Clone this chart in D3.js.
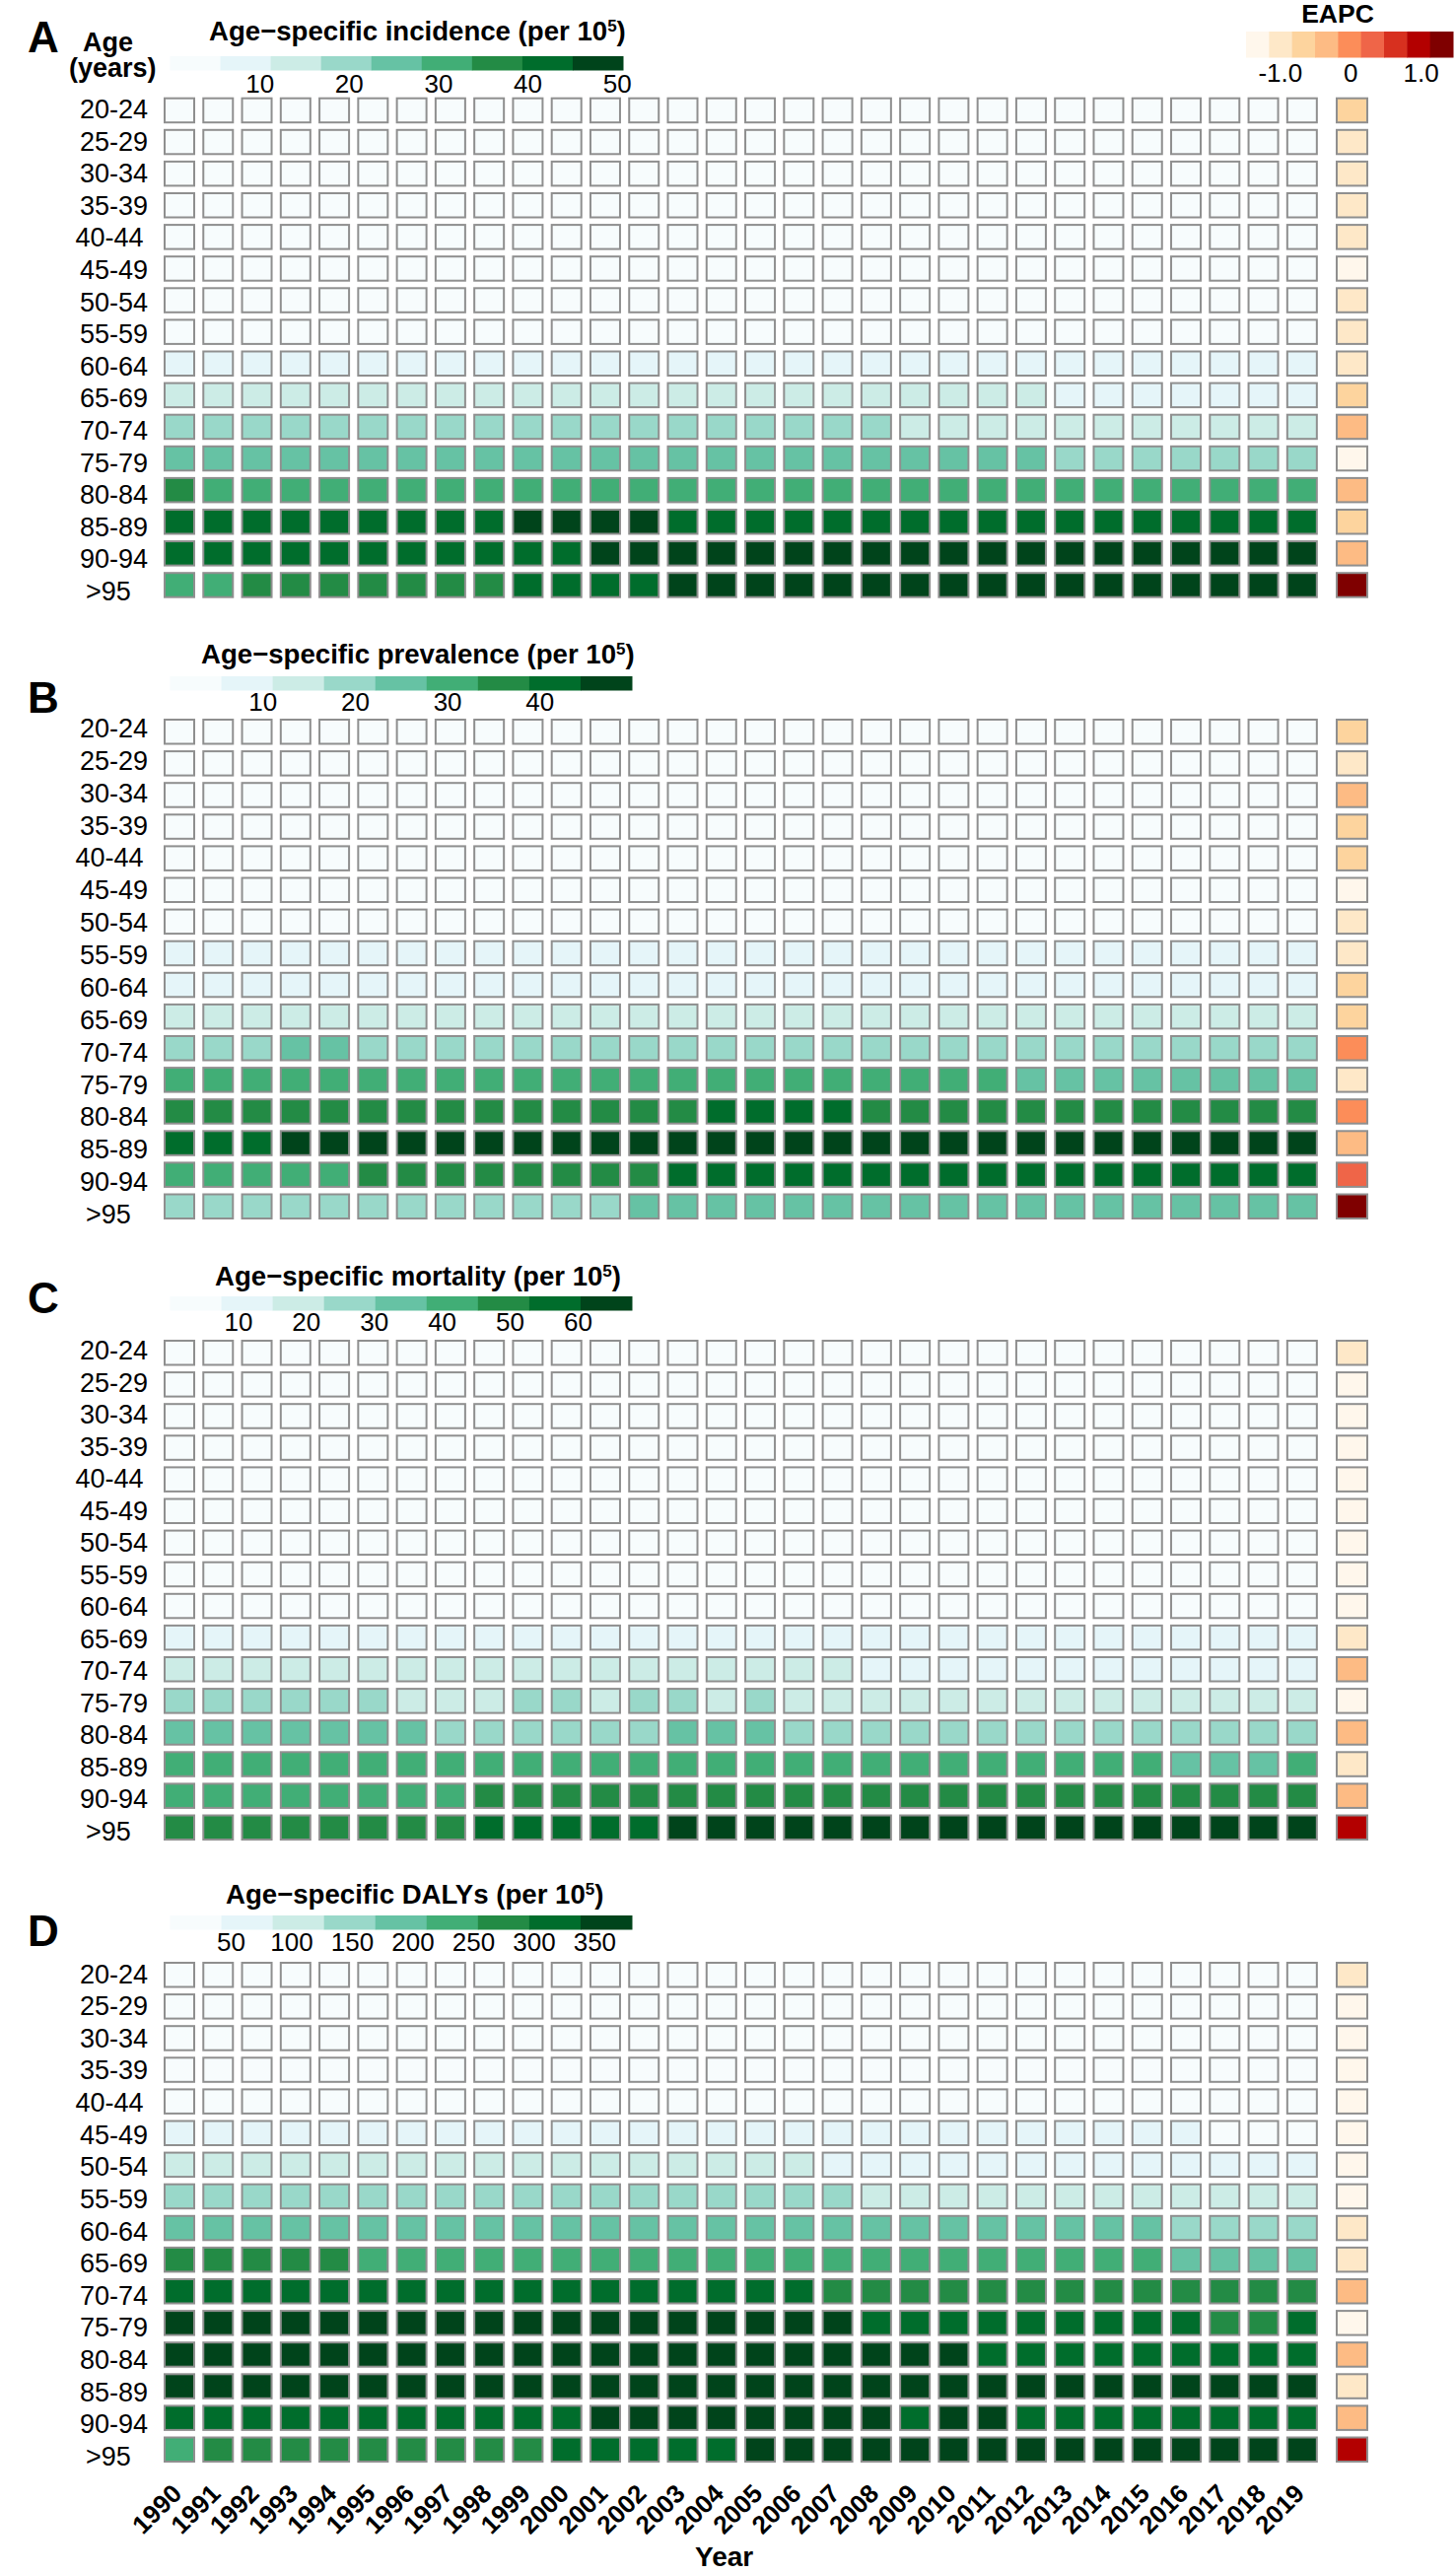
<!DOCTYPE html>
<html>

<head>
  <meta charset="utf-8">
  <title>Age-specific incidence, prevalence, mortality and DALYs</title>
  <style>
  body {
    margin: 0px;
    background: #fff;
  }
  text {
    font-family: "Liberation Sans", Arial, sans-serif;
    fill: #000;
  }
  .cell {
    stroke: #8f8f8f;
    stroke-width: 2px;
  }
  .bold {
    font-weight: bold;
  }
  </style>
</head>

<body>
  <svg width="1477" height="2610"></svg>
  <script src="https://d3js.org/d3.v7.min.js"></script>
  <script>
  var years = d3.range(1990, 2020);
  var ages = ["20-24", "25-29", "30-34", "35-39", "40-44", "45-49", "50-54", "55-59",
    "60-64", "65-69", "70-74", "75-79", "80-84", "85-89", "90-94", ">95"];

  // colour class (1-9) of every cell, one string per age group
  // blocks of ten years: 1990-1999, 2000-2009, 2010-2019
  var incidence = [
    "1111111111 1111111111 1111111111",
    "1111111111 1111111111 1111111111",
    "1111111111 1111111111 1111111111",
    "1111111111 1111111111 1111111111",
    "1111111111 1111111111 1111111111",
    "1111111111 1111111111 1111111111",
    "1111111111 1111111111 1111111111",
    "1111111111 1111111111 1111111111",
    "2222222222 2222222222 2222222222",
    "3333333333 3333333333 3332222222",
    "4444444444 4444444443 3333333333",
    "5555555555 5555555555 5554444444",
    "7666666666 6666666666 6666666666",
    "8888888889 9998888888 8888888888",
    "8888888888 8999999999 9999999999",
    "6677777778 8889999999 9999999999"
  ];
  var prevalence = [
    "1111111111 1111111111 1111111111",
    "1111111111 1111111111 1111111111",
    "1111111111 1111111111 1111111111",
    "1111111111 1111111111 1111111111",
    "1111111111 1111111111 1111111111",
    "1111111111 1111111111 1111111111",
    "1111111111 1111111111 1111111111",
    "2222222222 2222222222 2222222222",
    "2222222222 2222222222 2222222222",
    "3333333333 3333333333 3333333333",
    "4445544444 4444444444 4444444444",
    "6666666666 6666666666 6655555555",
    "7777777777 7777888877 7777777777",
    "8889999999 9999999999 9999999999",
    "6666677777 7778888888 8888888888",
    "4444444444 4455555555 5555555555"
  ];
  var mortality = [
    "1111111111 1111111111 1111111111",
    "1111111111 1111111111 1111111111",
    "1111111111 1111111111 1111111111",
    "1111111111 1111111111 1111111111",
    "1111111111 1111111111 1111111111",
    "1111111111 1111111111 1111111111",
    "1111111111 1111111111 1111111111",
    "1111111111 1111111111 1111111111",
    "1111111111 1111111111 1111111111",
    "2222222222 2222222222 2222222222",
    "3333333333 3333333322 2222222222",
    "4444443334 4344343333 3333333333",
    "5555555444 4445554444 4444444444",
    "6666666666 6666666666 6666665556",
    "6666666677 7777777777 7777777777",
    "7777777788 8889999999 9999999999"
  ];
  var dalys = [
    "1111111111 1111111111 1111111111",
    "1111111111 1111111111 1111111111",
    "1111111111 1111111111 1111111111",
    "1111111111 1111111111 1111111111",
    "1111111111 1111111111 1111111111",
    "2222222222 2222222222 2222222111",
    "3333333333 3333333222 2222222222",
    "4444444444 4444444433 3333333333",
    "5555555555 5555555555 5555554444",
    "7777766666 6666666666 6666665555",
    "8888888888 8888888777 7777777777",
    "9999999999 9999999988 8888888778",
    "9999999999 9999999999 9888888888",
    "9999999999 9999999999 9999999999",
    "8888888888 8999999998 9988888888",
    "6777777777 8888899999 9999999999"
  ];

  var eapcIncidence = [3, 2, 2, 2, 2, 1, 2, 2, 2, 3, 4, 1, 4, 3, 4, 9];
  var eapcPrevalence = [3, 2, 4, 3, 3, 1, 2, 2, 3, 3, 5, 2, 5, 4, 6, 9];
  var eapcMortality = [2, 1, 1, 1, 1, 1, 1, 1, 1, 2, 4, 1, 4, 2, 4, 8];
  var eapcDalys = [2, 1, 1, 1, 1, 1, 1, 1, 2, 2, 4, 1, 4, 2, 4, 8];

  var incidenceTicks = [10, 20, 30, 40, 50];
  var prevalenceTicks = [10, 20, 30, 40];
  var mortalityTicks = [10, 20, 30, 40, 50, 60];
  var dalysTicks = [50, 100, 150, 200, 250, 300, 350];
  var eapcTicks = [-1, 0, 1];

  var levels = d3.range(1, 10);
  var green = d3.scaleOrdinal().domain(levels).range(d3.schemeBuGn[9]);
  var orange = d3.scaleOrdinal().domain(levels).range(d3.schemeOrRd[9]);

  var svg = d3.select("svg");

  var colStep = 39.27, cellW = 32;
  var rowStep = 32.1, cellH = 26.5;
  var x = d3.scaleBand()
    .domain(years)
    .range([166, 166 + colStep * 29 + cellW])
    .paddingInner(1 - cellW / colStep);

  function parseRow(s) {
    return s.replace(/ /g, "").split("").map(Number);
  }

  // one colour bar with its labels underneath
  function colorBar(g, colors, x0, x1, y0, y1, domainMax, domainMin, ticks, baseline, fontSize, fmt) {
    var band = d3.scaleBand().domain(levels).range([x0, x1]);
    g.selectAll(".bin")
      .data(levels)
      .enter()
      .append("rect")
      .attr("class", "bin")
      .attr("x", function(d) { return band(d); })
      .attr("y", y0)
      .attr("width", band.bandwidth() + 0.5)
      .attr("height", y1 - y0)
      .attr("fill", function(d) { return colors(d); });

    var scale = d3.scaleLinear().domain([domainMin, domainMax]).range([x0, x1]);
    var axis = g.append("g")
      .attr("transform", "translate(0," + baseline + ")")
      .call(d3.axisBottom(scale).tickValues(ticks).tickSize(0).tickFormat(fmt || d3.format("d")));
    axis.select(".domain").remove();
    axis.selectAll("text")
      .attr("y", 0)
      .attr("dy", 0)
      .attr("font-size", fontSize)
      .attr("font-family", '"Liberation Sans", Arial, sans-serif');
  }

  function drawPanel(p) {
    var g = svg.append("g");

    g.append("text")
      .attr("class", "bold")
      .attr("x", 28)
      .attr("y", p.letterY)
      .attr("font-size", 44)
      .text(p.letter);

    var title = g.append("text")
      .attr("class", "bold")
      .attr("x", p.titleX)
      .attr("y", p.titleY)
      .attr("font-size", 27.6);
    title.append("tspan").text(p.title + " (per 10");
    title.append("tspan").attr("dy", -9).attr("font-size", 17).text("5");
    title.append("tspan").attr("dy", 9).text(")");

    colorBar(g, green, 172.5, p.barRight, p.barTop, p.barTop + 14.5, p.barMax, 0, p.ticks, p.tickY, 26);

    var y = d3.scaleBand()
      .domain(ages)
      .range([p.top, p.top + rowStep * 15 + cellH])
      .paddingInner(1 - cellH / rowStep);

    var labelY = d3.scalePoint().domain(ages).range([p.labelTop, p.labelBottom]);

    g.selectAll(".age")
      .data(ages)
      .enter()
      .append("text")
      .attr("class", "age")
      .attr("x", function(d) { return d == "40-44" ? 76.5 : d == ">95" ? 87 : 81; })
      .attr("y", function(d) { return labelY(d); })
      .attr("font-size", 27)
      .text(function(d) { return d; });

    var rows = g.selectAll(".row")
      .data(p.values.map(parseRow))
      .enter()
      .append("g")
      .attr("class", "row")
      .attr("transform", function(d, i) { return "translate(0," + y(ages[i]) + ")"; });

    rows.selectAll("rect")
      .data(function(d) { return d; })
      .enter()
      .append("rect")
      .attr("class", "cell")
      .attr("x", function(d, i) { return x(years[i]) + 1; })
      .attr("y", 1)
      .attr("width", x.bandwidth() - 2)
      .attr("height", y.bandwidth() - 2)
      .attr("fill", function(d) { return green(d); });

    g.selectAll(".eapc")
      .data(p.eapc)
      .enter()
      .append("rect")
      .attr("class", "cell eapc")
      .attr("x", 1356)
      .attr("y", function(d, i) { return y(ages[i]) + 1; })
      .attr("width", 31)
      .attr("height", y.bandwidth() - 2)
      .attr("fill", function(d) { return orange(d); });
  }

  drawPanel({
    letter: "A", letterY: 53, title: "Age\u2212specific incidence", titleX: 212, titleY: 41,
    barTop: 57, barRight: 632, barMax: 50.7, ticks: incidenceTicks, tickY: 94,
    top: 98.7, labelTop: 120, labelBottom: 609, values: incidence, eapc: eapcIncidence
  });
  drawPanel({
    letter: "B", letterY: 723, title: "Age\u2212specific prevalence", titleX: 204, titleY: 673,
    barTop: 686, barRight: 641, barMax: 50, ticks: prevalenceTicks, tickY: 720.5,
    top: 729, labelTop: 748, labelBottom: 1241, values: prevalence, eapc: eapcPrevalence
  });
  drawPanel({
    letter: "C", letterY: 1332, title: "Age\u2212specific mortality", titleX: 218, titleY: 1304,
    barTop: 1315, barRight: 641, barMax: 68, ticks: mortalityTicks, tickY: 1349.5,
    top: 1359, labelTop: 1379, labelBottom: 1867, values: mortality, eapc: eapcMortality
  });
  drawPanel({
    letter: "D", letterY: 1974, title: "Age\u2212specific DALYs", titleX: 229, titleY: 1930.5,
    barTop: 1943, barRight: 641, barMax: 381, ticks: dalysTicks, tickY: 1979,
    top: 1990, labelTop: 2011.5, labelBottom: 2501, values: dalys, eapc: eapcDalys
  });

  // header of the age column
  svg.append("text").attr("class", "bold").attr("x", 84).attr("y", 52).attr("font-size", 27).text("Age");
  svg.append("text").attr("class", "bold").attr("x", 70).attr("y", 78).attr("font-size", 27).text("(years)");

  // EAPC legend
  svg.append("text")
    .attr("class", "bold")
    .attr("x", 1357)
    .attr("y", 23)
    .attr("font-size", 26.5)
    .attr("text-anchor", "middle")
    .text("EAPC");
  colorBar(svg.append("g"), orange, 1264, 1474, 32, 58.5, 1.46, -1.48, eapcTicks, 83, 26,
    function(d) { return d == 0 ? "0" : d < 0 ? "-1.0" : "1.0"; });

  // year labels under panel D
  var yearAxis = svg.append("g")
    .attr("transform", "translate(0,2505)")
    .call(d3.axisBottom(x).tickSize(0));
  yearAxis.select(".domain").remove();
  yearAxis.selectAll("text")
    .attr("class", "bold")
    .attr("font-size", 26)
    .attr("font-family", '"Liberation Sans", Arial, sans-serif')
    .attr("text-anchor", "end")
    .attr("x", 4)
    .attr("y", 26)
    .attr("dy", 0)
    .attr("transform", "rotate(-45,4,26)");

  svg.append("text")
    .attr("class", "bold")
    .attr("x", 705)
    .attr("y", 2603)
    .attr("font-size", 28)
    .text("Year");
  </script>
</body>

</html>
